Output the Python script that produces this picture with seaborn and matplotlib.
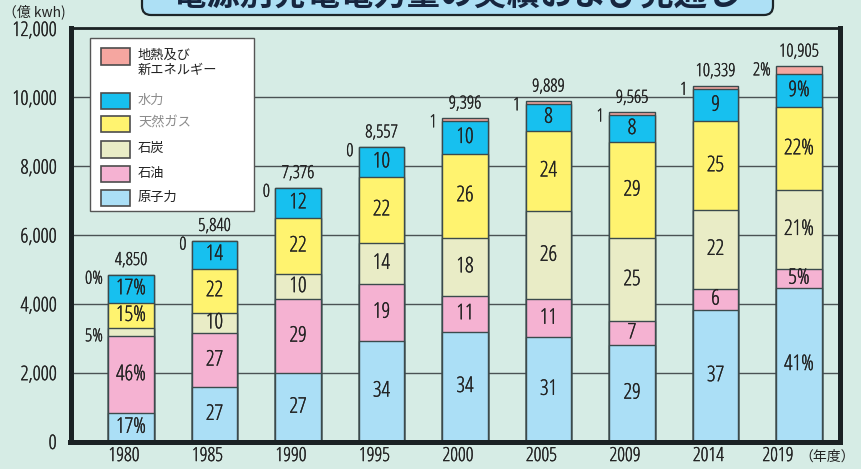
import matplotlib
matplotlib.use("Agg")
import matplotlib.pyplot as plt
import matplotlib.patheffects as pe
import seaborn as sns
import pandas as pd
from matplotlib.patches import Rectangle, FancyBboxPatch
from matplotlib.transforms import IdentityTransform, ScaledTranslation
from matplotlib import font_manager
from matplotlib.font_manager import FontProperties

# ---------------- data ----------------
years = ["1980", "1985", "1990", "1995", "2000", "2005", "2009", "2014", "2019"]
totals = [4850, 5840, 7376, 8557, 9396, 9889, 9565, 10339, 10905]
nuclear = [825, 1577, 1992, 2930, 3195, 3030, 2810, 3825, 4471]
oil = [2231, 1577, 2139, 1650, 1034, 1100, 690, 620, 545]
coal = [243, 584, 738, 1190, 1691, 2560, 2400, 2275, 2290]
lng = [728, 1285, 1623, 1920, 2443, 2340, 2810, 2585, 2399]
hydro = [823, 817, 884, 867, 940, 780, 765, 930, 981]
geo_new = [0, 0, 0, 0, 93, 79, 90, 104, 219]

pct_nuclear = [17, 27, 27, 34, 34, 31, 29, 37, 41]
pct_oil = [46, 27, 29, 19, 11, 11, 7, 6, 5]
pct_coal = [5, 10, 10, 14, 18, 26, 25, 22, 21]
pct_lng = [15, 22, 22, 22, 26, 24, 29, 25, 22]
pct_hydro = [17, 14, 12, 10, 10, 8, 8, 9, 9]
pct_geo = [0, 0, 0, 0, 1, 1, 1, 1, 2]
pct_sign_years = ["1980", "2019"]

series_names = ["原子力", "石油", "石炭", "天然ガス", "水力", "地熱及び新エネルギー"]
legend_labels = ["地熱及び\n新エネルギー", "水力", "天然ガス", "石炭", "石油", "原子力"]
ytick_values = [0, 2000, 4000, 6000, 8000, 10000, 12000]
ytick_labels = ["0", "2,000", "4,000", "6,000", "8,000", "10,000", "12,000"]
title = "電源別発電電力量の実績および見通し"

# ---------------- style ----------------
bg = "#d6ece5"
colors = {
    "原子力": "#abdff6",
    "石油": "#f5b2d2",
    "石炭": "#e9ecc6",
    "天然ガス": "#fff36f",
    "水力": "#17c0ef",
    "地熱及び新エネルギー": "#f5a6a0",
}
edge = "#3b4a4c"
dark = "#1b2224"
txt = "#222222"
thick = [pe.withStroke(linewidth=0.2, foreground=txt)]

sns.set_theme(style="white")
cjk = "Noto Sans CJK JP"


def pick_condensed():
    best = None
    best_score = None
    fam_rank = {"Noto Sans": 0, "Open Sans": 1, "Roboto": 2, "Roboto Condensed": 2,
                "DejaVu Sans": 3, "Liberation Sans Narrow": 4}
    for f in font_manager.fontManager.ttflist:
        low = f.fname.lower()
        cond = (str(f.stretch) in ("condensed", "semi-condensed", "extra-condensed")
                or "condensed" in low or "narrow" in low)
        if not cond or f.style != "normal" or "mono" in low or "cjk" in low:
            continue
        flat = low.replace("-", "").replace("_", "")
        rank_extra = 1 if ("extracondensed" in flat or "semicondensed" in flat) else 0
        try:
            w = int(f.weight)
        except Exception:
            w = 400
        score = (fam_rank.get(f.name, 5), rank_extra, abs(w - 400))
        if best_score is None or score < best_score:
            best, best_score = f, score
    return best


bf = pick_condensed()
if bf is not None:
    NUM = dict(fname=bf.fname)
else:
    NUM = dict(family="Liberation Sans")


def fp(size):
    return FontProperties(size=size, **NUM)


plt.rcParams["font.family"] = ["Liberation Sans Narrow", cjk, "DejaVu Sans"]

W, H = 861, 469
fig = plt.figure(figsize=(W / 100, H / 100), dpi=100, facecolor=bg)
ax = fig.add_axes([70.5 / W, 1 - 441.5 / H, (839.5 - 70.5) / W, (441.5 - 28.5) / H])
ax.set_facecolor(bg)

df = pd.DataFrame({
    "year": years,
    "原子力": nuclear, "石油": oil, "石炭": coal,
    "天然ガス": lng, "水力": hydro, "地熱及び新エネルギー": geo_new,
})
cum = df[series_names].cumsum(axis=1)
for name in series_names:
    df["top_" + name] = cum[name]

# draw cumulative bars from the top layer down (stacking)
for name in reversed(series_names):
    sns.barplot(data=df, x="year", y="top_" + name, order=years, color=colors[name],
                saturation=1, edgecolor=edge, linewidth=1.0, width=0.54,
                errorbar=None, ax=ax, zorder=3)

ax.set_xlim(-0.7246, 8.485)
ax.set_ylim(0, 12000)
ax.set_yticks(ytick_values)
ax.set_yticklabels(ytick_labels)
ax.set_xlabel("")
ax.set_ylabel("")
ax.yaxis.grid(True, color="#4a5254", linewidth=1.0)
ax.xaxis.grid(False)
ax.set_axisbelow(True)
ax.tick_params(axis="y", length=0, pad=10, labelcolor=txt)
ax.tick_params(axis="x", length=0, pad=4, labelcolor=txt)
for lbl in ax.get_yticklabels():
    lbl.set_fontproperties(fp(14.5))
    lbl.set_path_effects(thick)
for k, lbl in enumerate(ax.get_xticklabels()):
    lbl.set_fontproperties(fp(14))
    lbl.set_path_effects(thick)
    dx = -21 if k == len(years) - 1 else -7
    lbl.set_transform(lbl.get_transform() + ScaledTranslation(dx / 100, 0, fig.dpi_scale_trans))
for s in ["left", "bottom", "right"]:
    ax.spines[s].set_color(dark)
    ax.spines[s].set_linewidth(3.6)
ax.spines["top"].set_color(dark)
ax.spines["top"].set_linewidth(2.0)
for sp in ax.spines.values():
    sp.set_visible(True)
    sp.set_zorder(5)

# ---------------- labels ----------------
pcts = {"原子力": pct_nuclear, "石油": pct_oil, "石炭": pct_coal,
        "天然ガス": pct_lng, "水力": pct_hydro}
half_w = 0.27
for i, y in enumerate(years):
    sfx = "%" if y in pct_sign_years else ""
    base = 0
    for name in series_names[:-1]:
        v = df.loc[i, name]
        mid = base + v / 2
        lab = f"{pcts[name][i]}{sfx}"
        if name == "石炭" and y == "1980":
            ax.annotate(lab, (i - half_w, mid), xytext=(-4, -3), textcoords="offset points",
                        ha="right", va="center", fontproperties=fp(13), color=txt, zorder=6,
                        path_effects=thick)
        else:
            ax.text(i, mid, lab, ha="center", va="center", fontproperties=fp(15.5),
                    color=txt, zorder=6, path_effects=thick)
        base += v
    ax.annotate(f"{pct_geo[i]}{sfx}", (i - half_w, totals[i]), xytext=(-4, -3),
                textcoords="offset points", ha="right", va="center",
                fontproperties=fp(13), color=txt, zorder=6, path_effects=thick)
    ax.annotate(f"{totals[i]:,}", (i, totals[i]), xytext=(0, 4), textcoords="offset points",
                ha="center", va="bottom", fontproperties=fp(13), color=txt, zorder=6,
                path_effects=thick)

# unit labels
fig.text(3 / W, 1 - 12 / H, "（億 kwh)", ha="left", va="center", fontsize=10, color=txt)
fig.text(799 / W, 1 - 457 / H, "（年度）", ha="left", va="center", fontsize=10, color=txt,
         family=[cjk])

# ---------------- title (cut off at top) ----------------
tbox = FancyBboxPatch((142, H - 15), 631, 40, boxstyle="round,pad=0,rounding_size=9",
                      transform=IdentityTransform(), facecolor="#ade0f5",
                      edgecolor="#1d2528", linewidth=1.6, zorder=2)
fig.add_artist(tbox)
fig.text(457 / W, 1 - 6 / H, title, ha="center", va="baseline", fontsize=24,
         fontweight="bold", color="#17263f", family=[cjk], zorder=3)


# ---------------- legend (manual box) ----------------
def P(x, y_top):
    return (x, H - y_top)


lbox = Rectangle(P(90, 211), 164, 173, transform=IdentityTransform(),
                 facecolor="white", edgecolor="#555555", linewidth=1.0, zorder=7)
fig.add_artist(lbox)
legend_keys = ["地熱及び新エネルギー", "水力", "天然ガス", "石炭", "石油", "原子力"]
sw_tops = [48, 92.5, 115.5, 141, 165.5, 189.5]
text_grey = {"水力", "天然ガス"}
for lab, key, top in zip(legend_labels, legend_keys, sw_tops):
    r = Rectangle(P(101, top + 16.5), 28.5, 16.5, transform=IdentityTransform(),
                  facecolor=colors[key], edgecolor="#4d4d4d", linewidth=1.2, zorder=8)
    fig.add_artist(r)
    col = "#8c8c8c" if key in text_grey else txt
    if "\n" in lab:
        l1, l2 = lab.split("\n")
        fig.text(138 / W, 1 - 55 / H, l1, ha="left", va="center", fontsize=9.5, color=col,
                 family=[cjk], zorder=9)
        fig.text(138 / W, 1 - 70 / H, l2, ha="left", va="center", fontsize=9.5, color=col,
                 family=[cjk], zorder=9)
    else:
        fig.text(138 / W, 1 - (top + 7.5) / H, lab, ha="left", va="center", fontsize=9.5,
                 color=col, family=[cjk], zorder=9)

fig.savefig("out.png", dpi=100, facecolor=bg)
